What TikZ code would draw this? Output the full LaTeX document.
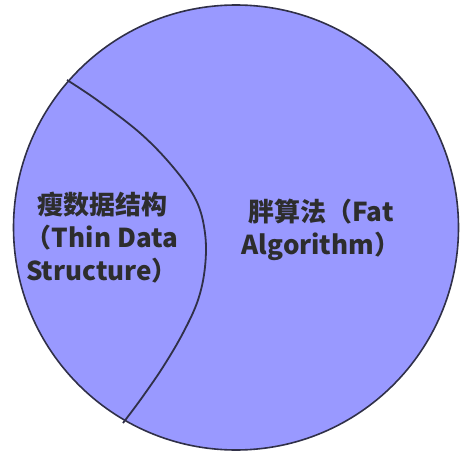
\documentclass[tikz,border=0pt]{standalone}
\usepackage{fontspec}
\newfontfamily\cjk{Noto Sans CJK SC}
\definecolor{fillc}{RGB}{153,153,255}
\definecolor{linec}{RGB}{48,48,72}
\definecolor{textc}{RGB}{45,45,45}
\begin{document}
\begin{tikzpicture}[x=1pt,y=-1pt,
  region/.style={fill=fillc,draw=linec,line width=1.6pt},
  divider/.style={draw=linec,line width=1.8pt},
  label/.style={text=textc,font=\cjk\bfseries\fontsize{26}{33}\selectfont,align=center,inner sep=0pt}]
\useasboundingbox (0,0) rectangle (460,457);
\coordinate (c) at (236,227.5);
\node[region,circle,minimum size=445pt,inner sep=0pt] (circ) at (c) {};
\draw[divider] plot[smooth,tension=0.6] coordinates {(67,80) (97,100) (140,133) (173,167) (196,200) (205,233) (205,267) (198,300) (183,333) (163,367) (141,399) (123,423)};
\node[label] (thin) at (102,237.5) {瘦数据结构\\（Thin Data\\Structure）};
\node[label] (fat) at (321,230) {胖算法（Fat\\Algorithm）};
\end{tikzpicture}
\end{document}
